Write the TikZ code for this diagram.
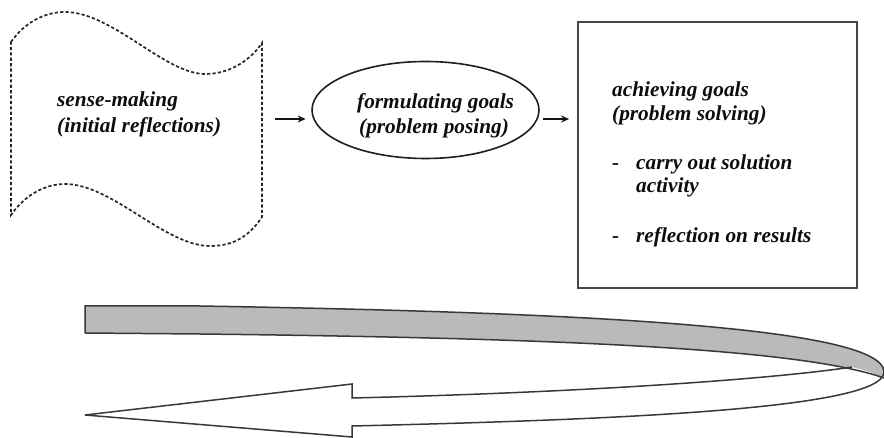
\documentclass[tikz,border=0pt]{standalone}
\usepackage{fontspec}
\setmainfont{Liberation Serif}
\usetikzlibrary{shapes.geometric,arrows.meta}
\begin{document}
\begin{tikzpicture}[x=1pt,y=-1pt,
  lbl/.style={anchor=base west,inner sep=0pt,font=\fontsize{21.3}{25}\selectfont\bfseries\itshape,text=black!95},
  arr/.style={line width=1.5pt,draw=black!92,-{Stealth[length=8pt,width=7pt]}},
  wavy/.style={draw=black!85,line width=1.7pt,dash pattern=on 3.2pt off 2.2pt},
  band/.style={draw=black!78,line width=1.5pt}]
\useasboundingbox (0,0) rectangle (884,438);
% sense-making wavy shape
\node[minimum width=251pt,minimum height=173pt,inner sep=0pt] (sense) at (136.5,128) {};
\draw[wavy] (11,42) .. controls (25,22) and (45,12) .. (65,12)
  .. controls (112,12) and (165,74) .. (205,74)
  .. controls (232,74) and (252,58) .. (262,43)
  -- (262,217)
  .. controls (250,235) and (235,246) .. (210,246)
  .. controls (165,246) and (112,184) .. (65,184)
  .. controls (45,184) and (25,195) .. (11,215) -- cycle;
\node[lbl] (s1) at (57,107) {sense-making};
\node[lbl] (s2) at (57,133) {(initial reflections)};
% ellipse
\node[ellipse,draw=black!88,line width=1.6pt,minimum width=227pt,minimum height=97pt,inner sep=0pt] (ell) at (425.5,110) {};
\node[lbl] (f1) at (357,109) {formulating goals};
\node[lbl] (f2) at (359,134) {(problem posing)};
% box
\node[draw=black!72,line width=1.8pt,minimum width=279pt,minimum height=266pt,inner sep=0pt] (box) at (717.5,155) {};
\node[lbl] (b1) at (612,97) {achieving goals};
\node[lbl] (b2) at (612,121) {(problem solving)};
\node[lbl] (d1) at (612,170) {-};
\node[lbl] (b3) at (636,170) {carry out solution};
\node[lbl] (b4) at (636,193) {activity};
\node[lbl] (d2) at (612,243) {-};
\node[lbl] (b5) at (636,243) {reflection on results};
% arrows
\coordinate (lvl) at (0,119);
\draw[arr,shorten <=13pt,shorten >=5.5pt] (sense.east |- lvl) -- (ell.west |- lvl);
\draw[arr,shorten <=3pt,shorten >=8pt] (ell.east |- lvl) -- (box.west |- lvl);
% curved arrow
\fill[black!27] (85,306) -- (200,306) .. controls (550,312) and (884,325) .. (884,372)
  -- (884,378) .. controls (800,348) and (550,338) .. (200,334) -- (85,333) -- cycle;
\fill[white] (852,367) .. controls (780,378) and (600,392) .. (352,398) -- (352,384) -- (85,415) -- (352,437) -- (352,426)
  .. controls (600,420) and (884,410) .. (884,372) -- (884,378) .. controls (870,372) .. cycle;
\draw[band] (85,333) -- (85,306) -- (200,306) .. controls (550,312) and (884,325) .. (884,372)
  .. controls (884,410) and (600,420) .. (352,426) -- (352,437) -- (85,415) -- (352,384) -- (352,398)
  .. controls (600,392) and (780,378) .. (852,367);
\draw[band] (85,333) -- (200,334) .. controls (550,338) and (800,348) .. (884,378);
\end{tikzpicture}
\end{document}
